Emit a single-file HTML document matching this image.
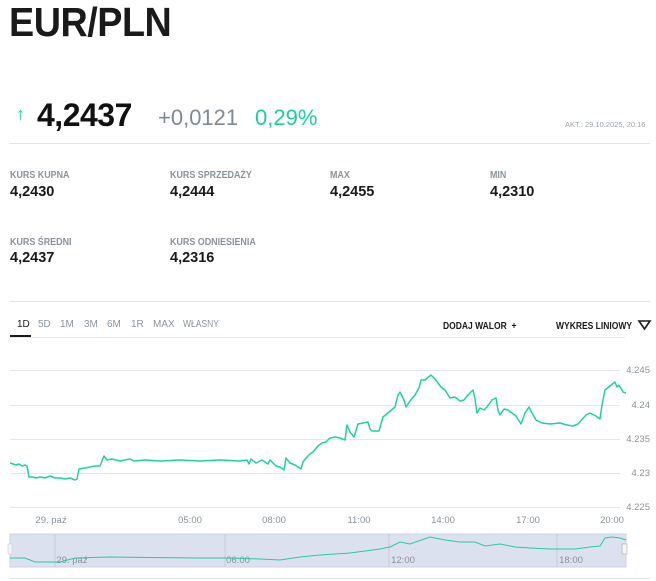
<!DOCTYPE html>
<html><head><meta charset="utf-8"><style>
body{margin:0;background:#fff;font-family:"Liberation Sans",sans-serif;width:656px;height:581px;overflow:hidden;position:relative;color:#1a1a1a}
.a{position:absolute;white-space:nowrap}
.c{transform:scaleX(0.85);transform-origin:0 0}
.lab{font-size:10.5px;color:#8a9399;font-weight:bold}
.val{font-size:14.5px;font-weight:bold;color:#1a1a1a}
.tab{font-size:10px;color:#8a9399}
</style></head><body>
<div class="a c" style="left:9px;top:-1px;font-size:41px;font-weight:bold;letter-spacing:-0.5px;transform:scaleX(0.92)">EUR/PLN</div>
<div class="a" style="left:16px;top:104px;font-size:18px;color:#1fcca0;font-weight:bold">↑</div>
<div class="a" style="left:37px;top:97px;font-size:32px;font-weight:bold;letter-spacing:-0.5px;color:#111">4,2437</div>
<div class="a" style="left:158px;top:105px;font-size:22px;color:#7e8a92">+0,0121</div>
<div class="a" style="left:255px;top:105px;font-size:22px;color:#1fcca0">0,29%</div>
<div class="a" style="left:565px;top:120px;font-size:7.5px;color:#9aa2a7">AKT.: 29.10.2025, 20:16</div>
<div class="a" style="left:10px;top:143px;width:640px;height:1px;background:#e3e3e3"></div>
<div class="a lab c" style="left:10px;top:169px">KURS KUPNA</div>
<div class="a val" style="left:10px;top:184px">4,2430</div>
<div class="a lab c" style="left:170px;top:169px">KURS SPRZEDAŻY</div>
<div class="a val" style="left:170px;top:184px">4,2444</div>
<div class="a lab c" style="left:330px;top:169px">MAX</div>
<div class="a val" style="left:330px;top:184px">4,2455</div>
<div class="a lab c" style="left:490px;top:169px">MIN</div>
<div class="a val" style="left:490px;top:184px">4,2310</div>
<div class="a lab c" style="left:10px;top:236px">KURS ŚREDNI</div>
<div class="a val" style="left:10px;top:250px">4,2437</div>
<div class="a lab c" style="left:170px;top:236px">KURS ODNIESIENIA</div>
<div class="a val" style="left:170px;top:250px">4,2316</div>
<div class="a" style="left:10px;top:301px;width:640px;height:1px;background:#e3e3e3"></div>
<div class="a tab" style="left:17px;top:319px;color:#1a1a1a">1D</div>
<div class="a tab" style="left:38px;top:319px">5D</div>
<div class="a tab" style="left:60px;top:319px">1M</div>
<div class="a tab" style="left:84px;top:319px">3M</div>
<div class="a tab" style="left:107px;top:319px">6M</div>
<div class="a tab" style="left:131px;top:319px">1R</div>
<div class="a tab" style="left:153px;top:319px">MAX</div>
<div class="a tab c" style="left:183px;top:319px">WŁASNY</div>
<div class="a" style="left:10px;top:335px;width:21px;height:2px;background:#1a1a1a"></div>
<div class="a" style="left:10px;top:337px;width:615px;height:1px;background:#e8e8e8"></div>
<div class="a c" style="left:443px;top:321px;font-size:10px;font-weight:bold">DODAJ WALOR &nbsp;+</div>
<div class="a c" style="left:556px;top:321px;font-size:10px;font-weight:bold">WYKRES LINIOWY</div>
<svg class="a" style="left:0;top:0" width="656" height="581">
<g stroke="#e6e6e6" stroke-width="1">
<line x1="10" y1="370.5" x2="620" y2="370.5"/><line x1="10" y1="405.5" x2="620" y2="405.5"/>
<line x1="10" y1="439.5" x2="620" y2="439.5"/><line x1="10" y1="473.5" x2="620" y2="473.5"/>
<line x1="10" y1="507.5" x2="620" y2="507.5"/></g>
<path d="M639 321 L650 321 L644.5 329 Z" fill="none" stroke="#1a1a1a" stroke-width="1.6"/>
<g font-size="9.5" fill="#8a9399" text-anchor="end">
<text x="650" y="373">4.245</text><text x="650" y="408">4.24</text><text x="650" y="442">4.235</text><text x="650" y="476">4.23</text><text x="650" y="510">4.225</text></g>
<g font-size="9.5" fill="#8a9399" text-anchor="middle">
<text x="51" y="523">29. paź</text><text x="190" y="523">05:00</text><text x="274" y="523">08:00</text><text x="359" y="523">11:00</text><text x="443" y="523">14:00</text><text x="528" y="523">17:00</text><text x="612" y="523">20:00</text></g>
<polyline fill="none" stroke="#20d0a5" stroke-width="1.5" stroke-linejoin="round" points="10,463 13,464 16,465 19,464 22,466 25,465 27,466 29,477 33,477 36,478 40,477 45,478 50,476 55,478 60,478 65,479 70,478 75,480 77,479 79,469 85,468 90,467 95,466 100,466 102,461 104,456 107,460 112,459 120,461 130,459 134,461 145,460 160,461 180,460 200,461 220,460 240,461 247,460 249,464 251,459 256,463 262,460 268,464 270,460 276,466 280,467 284,470 286,458 290,463 295,465 298,467 301,469 303,462 306,458 310,454 313,452 318,446 322,443 326,442 330,438 335,437 340,438 345,440 347,425 350,432 354,437 358,424 363,423 368,422 370,429 372,431 375,431 379,431 383,417 388,413 395,407 398,395 400,392 404,400 406,407 410,401 415,395 419,388 421,380 425,380 431,375 435,379 441,387 445,390 450,398 455,397 460,401 464,400 468,395 473,390 475,399 477,413 480,408 484,410 487,407 492,400 496,398 498,410 500,415 504,409 508,410 512,413 516,416 521,424 525,413 529,407 532,413 536,420 542,423 550,424 560,423 567,425 573,426 578,424 586,415 590,413 596,416 600,419 602,405 605,390 610,386 615,382 617,387 619,385 623,392 626,393"/>
<rect x="10" y="534" width="616" height="33" fill="#dbe1ef" stroke="#cdd3e0"/>
<g stroke="#c5cbd8"><line x1="55" y1="534" x2="55" y2="567"/><line x1="225" y1="534" x2="225" y2="567"/><line x1="389" y1="534" x2="389" y2="567"/><line x1="557" y1="534" x2="557" y2="567"/></g>
<g font-size="9.5" fill="#8a9399" text-anchor="middle">
<text x="72" y="563">29. paź</text><text x="238" y="563">06:00</text><text x="403" y="563">12:00</text><text x="571" y="563">18:00</text></g>
<polyline fill="none" stroke="#2ac9a6" stroke-width="1" points="10,558 25,558 35,562 60,562 75,558 110,557 200,558 230,558 260,559 280,560 300,557 320,555 350,553 380,549 390,547 400,542 410,544 430,537 445,540 460,542 475,542 485,546 500,544 515,547 530,548 550,549 575,549 590,547 600,546 605,538 612,537 620,538 626,540"/>
<rect x="622" y="544" width="5" height="10" fill="#f4f4f4" stroke="#aaa" stroke-width="0.6"/>
<rect x="8" y="544" width="4" height="10" fill="#f4f4f4" stroke="#ccc" stroke-width="0.6"/>
<line x1="10" y1="578.5" x2="650" y2="578.5" stroke="#e3e3e3"/>
</svg>
</body></html>
